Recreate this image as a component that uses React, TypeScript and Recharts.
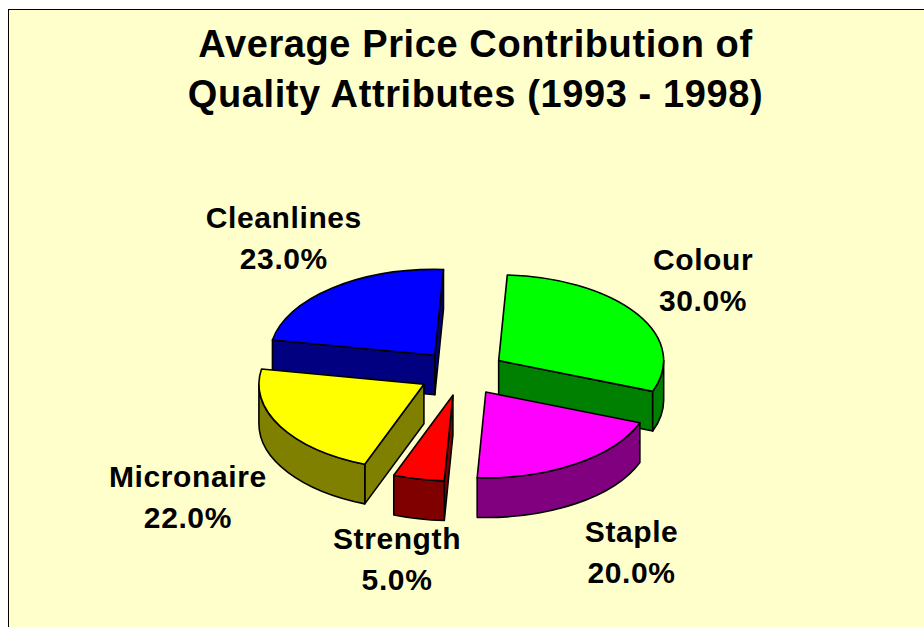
import { PieChart, Pie } from 'recharts'

// data, clockwise from (almost) 12 o'clock as in the original Excel chart
const categories = ['Colour', 'Staple', 'Strength', 'Micronaire', 'Cleanlines']
const shares = [30.0, 20.0, 5.0, 22.0, 23.0]
const titleLines = ['Average Price Contribution of', 'Quality Attributes (1993 - 1998)']

// styling
const topColors = ['#00FF00', '#FF00FF', '#FF0000', '#FFFF00', '#0000FF']
const sideColors = ['#008000', '#800080', '#800000', '#808000', '#000080']
const labelNudge = [
  [-17, -5],
  [2, 6],
  [-1, -10],
  [-6, 6],
  [13, -9],
]

const W = 915
const H = 617
const FIRST_ANGLE = 3 // first slice rotated a little clockwise
const TILT = 0.52 // ry / rx
const DEPTH = 0.24 // thickness / rx
const EXPLODE = 0.265
const LABEL_K = 1.6
const FONT = "'Liberation Sans', Arial, sans-serif"

const data = categories.map((name, i) => ({ name, value: shares[i] }))

const rad = (deg: number) => (deg * Math.PI) / 180
const f = (n: number) => n.toFixed(2)

function makeSliceLabel(pass: 'back' | 'front') {
  return (p: any) => {
    const { cx, cy, outerRadius, startAngle, endAngle, midAngle, index, percent, name } = p
    const rx = outerRadius
    const ry = outerRadius * TILT
    const d = outerRadius * DEPTH
    // convert to clockwise-from-top
    const a0 = 90 - startAngle
    const a1 = 90 - endAngle
    const m = 90 - midAngle
    const front = Math.cos(rad(m)) < 0
    const ox = cx + EXPLODE * rx * Math.sin(rad(m))
    const oy = cy - EXPLODE * ry * Math.cos(rad(m))
    const pt = (a: number, dy = 0) => `${f(ox + rx * Math.sin(rad(a)))} ${f(oy - ry * Math.cos(rad(a)) + dy)}`

    const parts: JSX.Element[] = []
    const drawSlice = pass === 'front' ? front : !front
    if (drawSlice) {
      const side = sideColors[index]
      const stroke = { stroke: '#000', strokeWidth: 1.6, strokeLinejoin: 'round' as const }
      // radial walls
      if (Math.cos(rad(a0 - 90)) < -0.01) {
        parts.push(
          <path key="w0" d={`M ${f(ox)} ${f(oy)} L ${pt(a0)} L ${pt(a0, d)} L ${f(ox)} ${f(oy + d)} Z`} fill={side} {...stroke} />
        )
      }
      if (Math.cos(rad(a1 + 90)) < -0.01) {
        parts.push(
          <path key="w1" d={`M ${f(ox)} ${f(oy)} L ${pt(a1)} L ${pt(a1, d)} L ${f(ox)} ${f(oy + d)} Z`} fill={side} {...stroke} />
        )
      }
      // outer curved wall (front half only)
      const s = Math.max(a0, 90)
      const e = Math.min(a1, 270)
      if (e > s) {
        parts.push(
          <path
            key="curve"
            d={`M ${pt(s)} A ${f(rx)} ${f(ry)} 0 0 1 ${pt(e)} L ${pt(e, d)} A ${f(rx)} ${f(ry)} 0 0 0 ${pt(s, d)} Z`}
            fill={side}
            {...stroke}
          />
        )
      }
      // top face
      const large = a1 - a0 > 180 ? 1 : 0
      parts.push(
        <path
          key="top"
          d={`M ${f(ox)} ${f(oy)} L ${pt(a0)} A ${f(rx)} ${f(ry)} 0 ${large} 1 ${pt(a1)} Z`}
          fill={topColors[index]}
          {...stroke}
        />
      )
    }

    if (pass === 'front') {
      const lx = ox + LABEL_K * rx * Math.sin(rad(m)) + labelNudge[index][0]
      const ly = oy - LABEL_K * ry * Math.cos(rad(m)) + (front ? d : 0) + labelNudge[index][1]
      parts.push(
        <text
          key="txt"
          textAnchor="middle"
          fontFamily={FONT}
          fontWeight="bold"
          fontSize={30}
          letterSpacing={0.6}
          fill="#000"
        >
          <tspan x={lx} y={ly - 10.5}>{name}</tspan>
          <tspan x={lx} y={ly + 30.5}>{(percent * 100).toFixed(1)}%</tspan>
        </text>
      )
    }
    return <g>{parts}</g>
  }
}

export default function App() {
  const pieProps = {
    data,
    dataKey: 'value',
    nameKey: 'name',
    cx: 453,
    cy: 363,
    outerRadius: 165,
    startAngle: 90 - FIRST_ANGLE,
    endAngle: -270 - FIRST_ANGLE,
    fill: 'none',
    stroke: 'none',
    labelLine: false,
    isAnimationActive: false,
  }
  return (
    <div
      style={{
        position: 'absolute',
        left: 8,
        top: 9,
        width: W + 1,
        height: H + 1,
        background: '#FFFFCC',
        borderLeft: '1px solid #000',
        borderTop: '1px solid #000',
        overflow: 'hidden',
      }}
    >
      <PieChart width={W} height={H} margin={{ top: 0, right: 0, bottom: 0, left: 0 }}>
        <Pie {...pieProps} label={makeSliceLabel('back')} isAnimationActive={false} />
        <Pie {...pieProps} label={makeSliceLabel('front')} isAnimationActive={false} />
      </PieChart>
      <svg width={W} height={H} style={{ position: 'absolute', left: 0, top: 0, pointerEvents: 'none' }}>
        {titleLines.map((line, i) => (
          <text
            key={line}
            x={466.5}
            y={47 + i * 50}
            textAnchor="middle"
            fontFamily={FONT}
            fontWeight="bold"
            fontSize={38}
            letterSpacing={0.6}
            fill="#000"
          >
            {line}
          </text>
        ))}
      </svg>
    </div>
  )
}
